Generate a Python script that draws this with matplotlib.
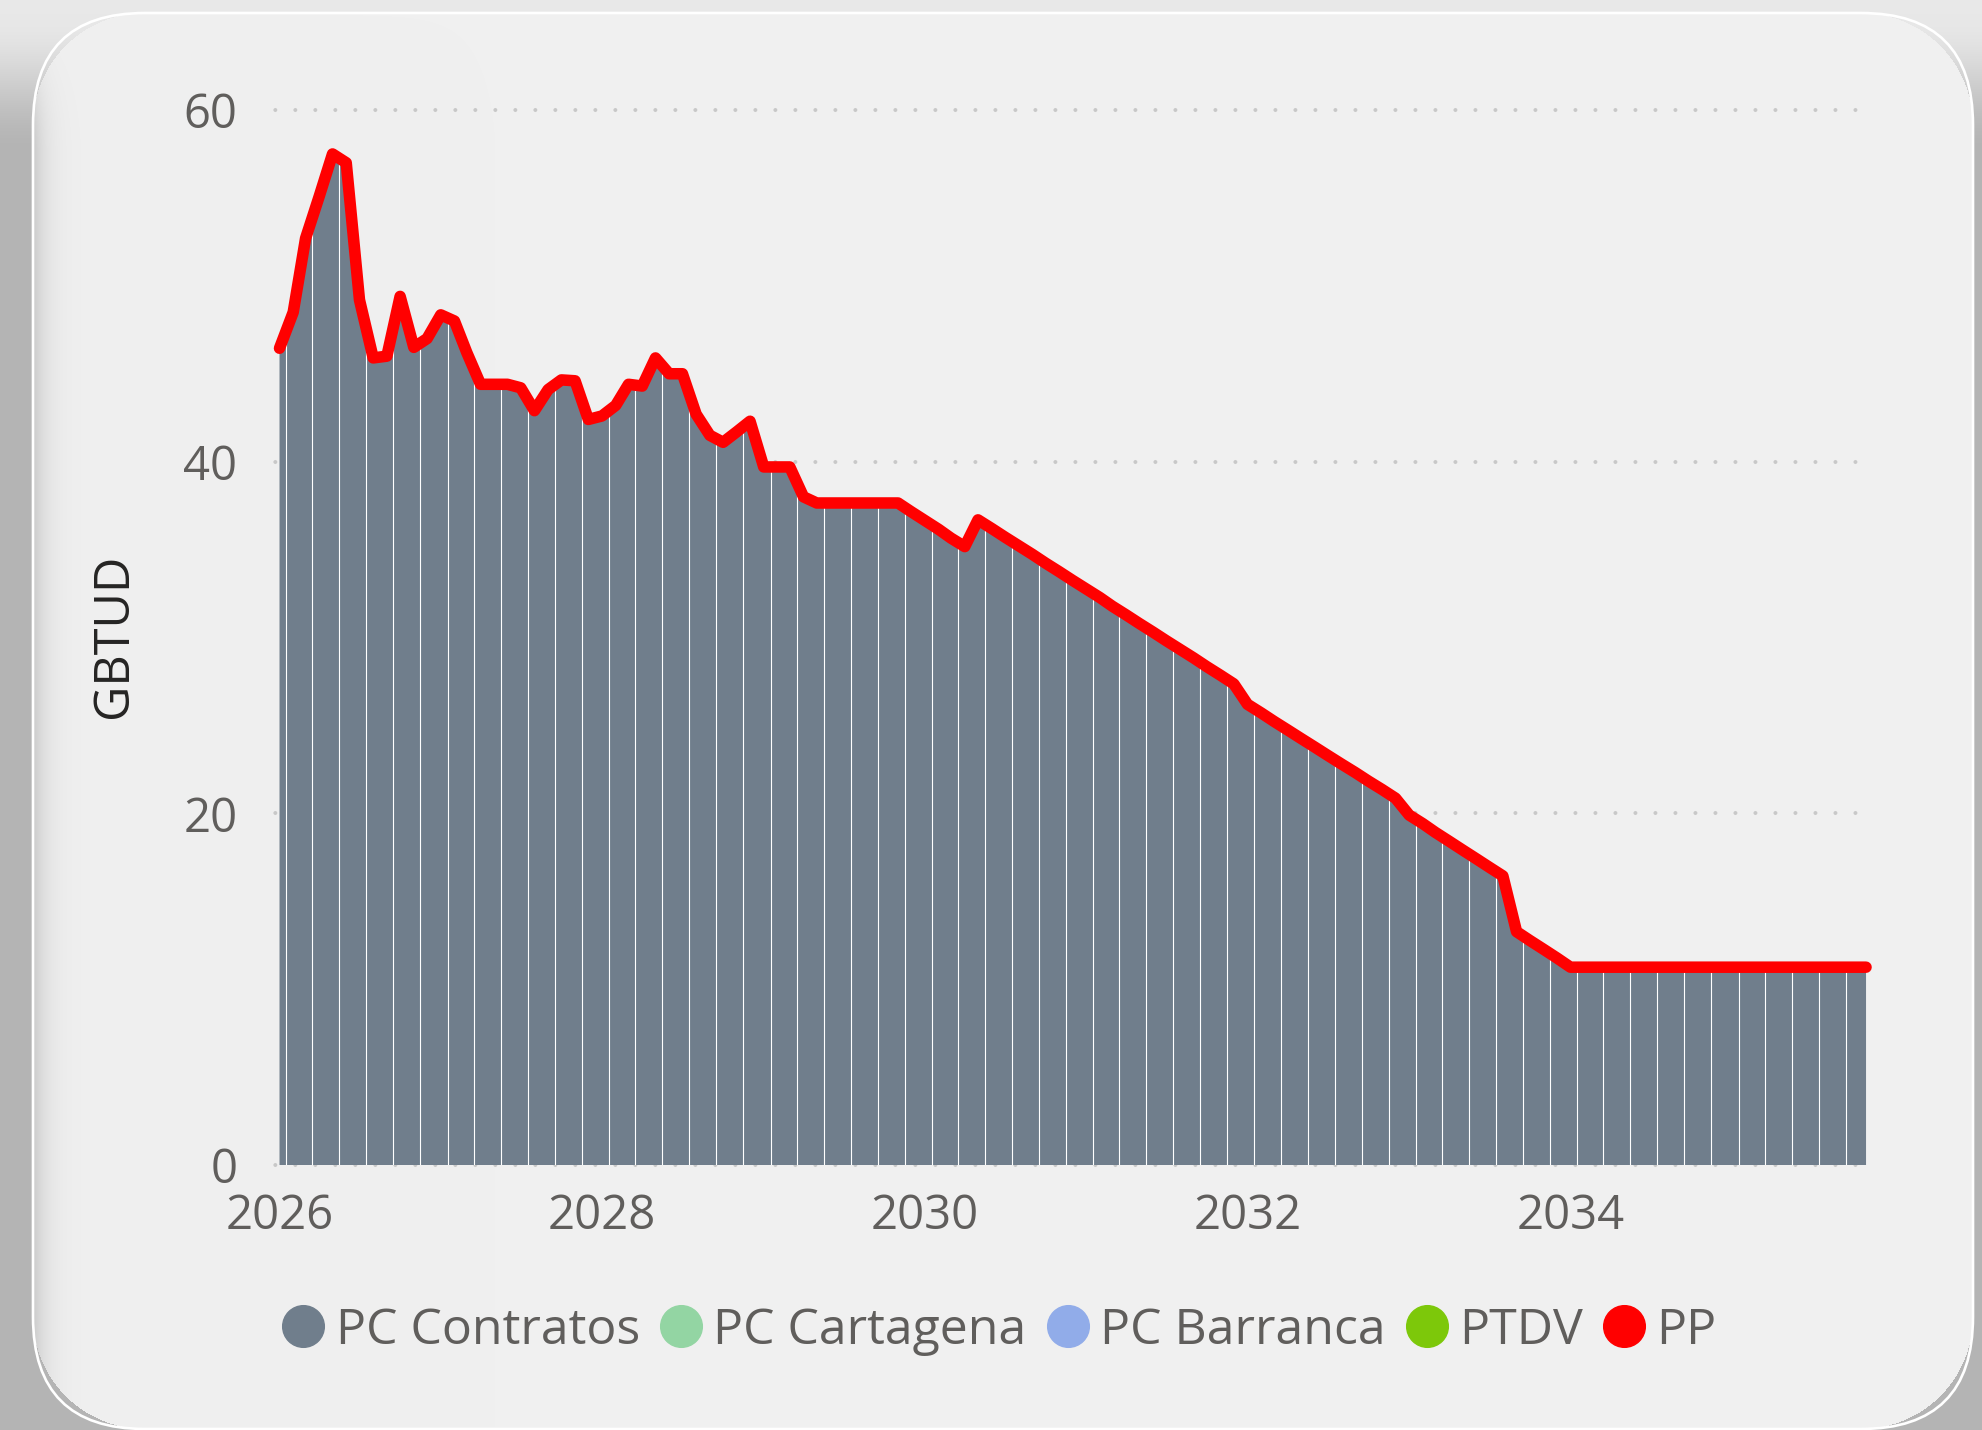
import numpy as np
import pandas as pd
import matplotlib
matplotlib.use("Agg")
import matplotlib.pyplot as plt
import matplotlib.dates as mdates
from matplotlib.patches import FancyBboxPatch
from matplotlib.lines import Line2D

plt.rcParams["font.family"] = ["Open Sans", "DejaVu Sans"]
plt.rcParams["lines.scale_dashes"] = False

# monthly volumes, GBTUD (Jan 2026 - Nov 2035)
months = pd.date_range("2026-01-01", periods=119, freq="MS")
pc_contratos = [
    46.45, 48.5, 52.7, 55.1, 57.5, 57.0, 49.2, 45.9, 46.0, 49.4, 46.5, 47.0,      # 2026
    48.35, 48.0, 46.2, 44.4, 44.4, 44.4, 44.2, 42.9, 44.1, 44.65, 44.6, 42.4,     # 2027
    42.6, 43.2, 44.4, 44.3, 45.9, 45.0, 45.0, 42.7, 41.5, 41.1, 41.7, 42.3,       # 2028
    39.7, 39.7, 39.7, 38.0, 37.65, 37.65, 37.65, 37.65, 37.65, 37.65, 37.65, 37.15,  # 2029
    36.65, 36.15, 35.65, 35.17, 36.69, 36.2, 35.71, 35.22, 34.73, 34.23, 33.74, 33.25,  # 2030
    32.76, 32.27, 31.78, 31.29, 30.8, 30.31, 29.82, 29.33, 28.84, 28.34, 27.85, 27.36,  # 2031
    26.2, 25.71, 25.23, 24.74, 24.26, 23.77, 23.29, 22.8, 22.32, 21.83, 21.35, 20.86,   # 2032
    19.9, 19.41, 18.92, 18.42, 17.93, 17.43, 16.94, 16.44, 13.27, 12.77, 12.27, 11.78,  # 2033
    11.25, 11.25, 11.25, 11.25, 11.25, 11.25, 11.25, 11.25, 11.25, 11.25, 11.25, 11.25,  # 2034
    11.25, 11.25, 11.25, 11.25, 11.25, 11.25, 11.25, 11.25, 11.25, 11.25, 11.25,         # 2035
]
# the other supply sources carry no volume over this horizon
pc_cartagena = np.zeros(len(months))
pc_barranca = np.zeros(len(months))
ptdv = np.zeros(len(months))
pp = np.array(pc_contratos) + pc_cartagena + pc_barranca + ptdv

series_names = ["PC Contratos", "PC Cartagena", "PC Barranca", "PTDV", "PP"]
series_colors = ["#707E8C", "#93D5A3", "#91ACE9", "#7DC80A", "#FF0000"]
yticks = [0, 20, 40, 60]

W, H, DPI = 1983, 1430, 100
fig = plt.figure(figsize=(W / DPI, H / DPI), dpi=DPI)

# card background with drop shadow, in pixel coordinates
bg = fig.add_axes([0, 0, 1, 1])
bg.set_xlim(0, W); bg.set_ylim(H, 0); bg.axis("off")
x0, y0, x1, y1, r = 33, 13, 1973, 1429, 112
yy, xx = np.mgrid[0:H, 0:W] + 0.5
dx = np.maximum(np.maximum(x0 + r - xx, xx - (x1 - r)), 0)
dy = np.maximum(np.maximum(y0 + r - yy, yy - (y1 - r)), 0)
inside = dx ** 2 + dy ** 2 <= r ** 2
s = np.clip((yy - 15) / 140, 0, 1)
s = s * s * (3 - 2 * s)
shade = np.where(inside, 240 - 40 * np.exp(-(xx - x0) / 13) * s, 232 - 52 * s)
bg.imshow(np.dstack([shade] * 3) / 255, extent=(0, W, H, 0), interpolation="bilinear")
bg.add_patch(FancyBboxPatch((x0, y0), x1 - x0, y1 - y0,
                            boxstyle=f"round,pad=0,rounding_size={r}",
                            fc="none", ec="white", lw=1.9))

# plot area
ax = fig.add_axes([272 / W, (H - 1165) / H, 1600 / W, 1055 / H])
ax.patch.set_alpha(0)
for sp in ax.spines.values():
    sp.set_visible(False)

xn = mdates.date2num(months)
ax.set_xlim(xn[0] - 17, xn[-1] + 13.5)
ax.set_ylim(0, 60)

for v in yticks:
    ax.axhline(v, color="#C8C8C8", lw=2.9, ls=(12, (0.001, 14.4)),
               dash_capstyle="round", clip_on=False, zorder=0)

ax.stackplot(xn, pc_contratos, pc_cartagena, pc_barranca, ptdv,
             colors=series_colors[:4], lw=0, zorder=1)

# thin seams between monthly segments
mid = (xn[:-1] + xn[1:]) / 2
top = (pp[:-1] + pp[1:]) / 2
ax.vlines(mid[::2], 0, top[::2], colors="white", lw=0.8, zorder=2)

ax.plot(xn, pp, color=series_colors[4], lw=8.3, solid_joinstyle="round",
        solid_capstyle="round", zorder=5)

ax.xaxis.set_major_locator(mdates.YearLocator(2))
ax.xaxis.set_major_formatter(mdates.DateFormatter("%Y"))
ax.set_yticks(yticks)
ax.tick_params(axis="both", length=0, labelsize=34, labelcolor="#605E5C")
ax.tick_params(axis="y", pad=25)
ax.tick_params(axis="x", pad=20)

fig.text(114 / W, 1 - 636 / H, "GBTUD", rotation=90, ha="center", va="center",
         fontsize=35, color="#252423")

handles = [Line2D([], [], ls="", marker="o", markersize=30, color=c, mec=c)
           for c in series_colors]
fig.legend(handles, series_names, loc="center", bbox_to_anchor=(1000 / W, 1 - 1331 / H),
           ncol=5, frameon=False, fontsize=36, labelcolor="#605E5C",
           handlelength=0.8, handletextpad=0.25, columnspacing=0.42, borderpad=0)

fig.savefig("out.png", dpi=DPI)
